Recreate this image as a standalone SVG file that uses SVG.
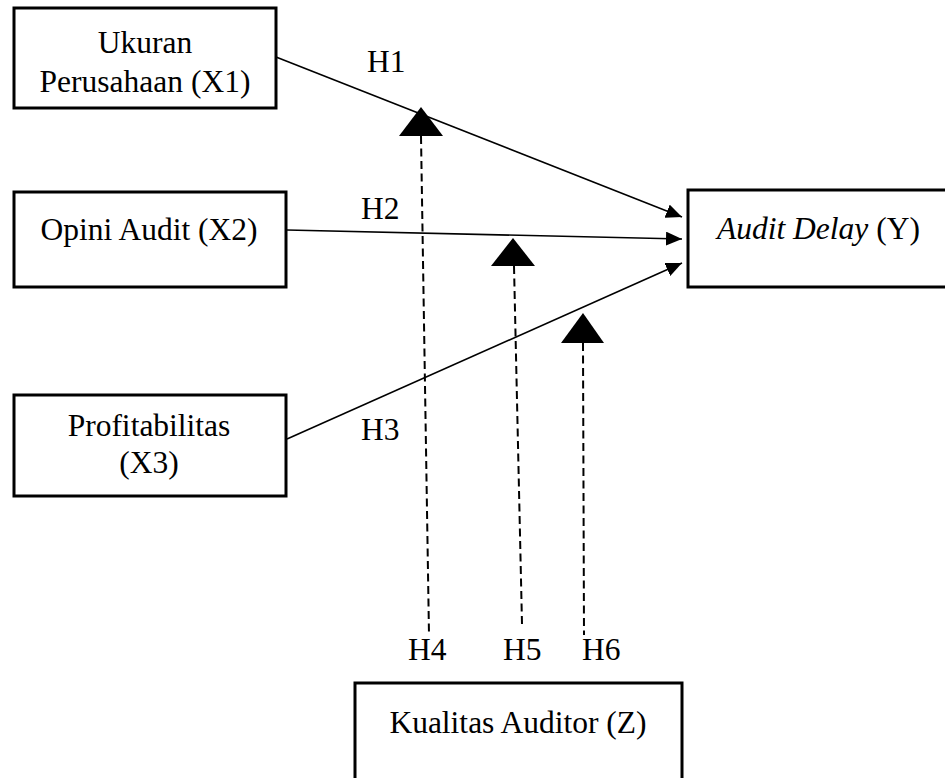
<svg xmlns="http://www.w3.org/2000/svg" width="945" height="778" viewBox="0 0 945 778">
<style>
.box{fill:#fff;stroke:#000;stroke-width:3}
.t{font-family:"Liberation Serif","Times New Roman",serif;font-size:31.5px;fill:#000}
.ln{stroke:#000;stroke-width:1.6;fill:none}
.dash{stroke:#000;stroke-width:2;fill:none;stroke-dasharray:8,4.5}
.tri{fill:#000}
</style>
<defs>
<marker id="arr" markerUnits="userSpaceOnUse" markerWidth="18" markerHeight="14" refX="16" refY="7" orient="auto">
<path d="M0,0 L16,7 L0,14 Z" fill="#000"/>
</marker>
</defs>
<rect width="945" height="778" fill="#fff"/>
<g id="connectors">
<line class="ln" x1="276" y1="57" x2="682" y2="217" marker-end="url(#arr)"/>
<line class="ln" x1="287" y1="230" x2="682" y2="239" marker-end="url(#arr)"/>
<line class="ln" x1="287" y1="439" x2="682" y2="263" marker-end="url(#arr)"/>
<line class="dash" x1="421" y1="136" x2="429" y2="635"/>
<line class="dash" x1="514" y1="266" x2="522" y2="624"/>
<line class="dash" x1="583" y1="343" x2="584" y2="635"/>
<polygon class="tri" points="421,107 399,136 443,136"/>
<polygon class="tri" points="513,238 491,266 535,266"/>
<polygon class="tri" points="583,313 561,343 604,343"/>
<text class="t" x="367" y="72">H1</text>
<text class="t" x="361" y="219">H2</text>
<text class="t" x="361" y="440">H3</text>
<text class="t" x="408" y="660">H4</text>
<text class="t" x="503" y="660">H5</text>
<text class="t" x="582" y="660">H6</text>
</g>
<g id="x1">
<rect class="box" x="14" y="8" width="262" height="100"/>
<text class="t" x="145" y="53" text-anchor="middle">Ukuran</text>
<text class="t" x="145" y="92" text-anchor="middle">Perusahaan (X1)</text>
</g>
<g id="x2">
<rect class="box" x="14" y="192" width="272" height="95"/>
<text class="t" x="149" y="240" text-anchor="middle">Opini Audit (X2)</text>
</g>
<g id="x3">
<rect class="box" x="14" y="395" width="272" height="101"/>
<text class="t" x="149" y="436" text-anchor="middle">Profitabilitas</text>
<text class="t" x="149" y="473" text-anchor="middle">(X3)</text>
</g>
<g id="y">
<rect class="box" x="688" y="190" width="262" height="97"/>
<text class="t" x="717" y="239"><tspan font-style="italic">Audit Delay</tspan> (Y)</text>
</g>
<g id="z">
<rect class="box" x="355" y="683" width="327" height="110"/>
<text class="t" x="518" y="733" text-anchor="middle">Kualitas Auditor (Z)</text>
</g>
</svg>
